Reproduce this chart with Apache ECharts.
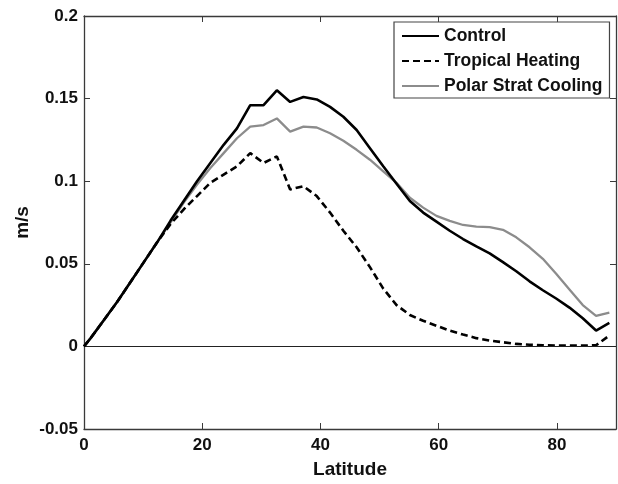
<!DOCTYPE html>
<html>
<head>
<meta charset="utf-8">
<script src="https://cdn.jsdelivr.net/npm/echarts@6/dist/echarts.min.js"></script>
<style>html,body{margin:0;padding:0;background:#fff}#c{width:618px;height:484px}</style>
</head>
<body>
<div id="c"></div>
<script>
const latitude = [0, 1.125, 3.375, 5.625, 7.875, 10.125, 12.375, 14.625, 16.875, 19.125, 21.375,
  23.625, 25.875, 28.125, 30.375, 32.625, 34.875, 37.125, 39.375, 41.625, 43.875,
  46.125, 48.375, 50.625, 52.875, 55.125, 57.375, 59.625, 61.875, 64.125, 66.375,
  68.625, 70.875, 73.125, 75.375, 77.625, 79.875, 82.125, 84.375, 86.625, 88.875];
const control = [0, 0.005, 0.016, 0.027, 0.039, 0.051, 0.063, 0.076, 0.088, 0.100, 0.111,
  0.122, 0.132, 0.146, 0.146, 0.155, 0.148, 0.151, 0.1495, 0.145, 0.139,
  0.131, 0.120, 0.109, 0.0985, 0.088, 0.081, 0.0755, 0.070, 0.065, 0.0605,
  0.0563, 0.051, 0.0455, 0.0394, 0.034, 0.029, 0.0235, 0.017, 0.0096, 0.0142];
const tropicalHeating = [0, 0.005, 0.016, 0.027, 0.039, 0.051, 0.063, 0.074, 0.083, 0.091, 0.099,
  0.104, 0.109, 0.117, 0.111, 0.115, 0.095, 0.097, 0.091, 0.081, 0.070,
  0.060, 0.048, 0.035, 0.025, 0.019, 0.0155, 0.0125, 0.0095, 0.0072, 0.005,
  0.0035, 0.0025, 0.0015, 0.001, 0.0007, 0.0005, 0.0005, 0.0005, 0.0007, 0.0066];
const polarStratCooling = [0, 0.005, 0.016, 0.027, 0.039, 0.051, 0.063, 0.075, 0.087, 0.098, 0.108,
  0.117, 0.126, 0.133, 0.134, 0.138, 0.130, 0.133, 0.1325, 0.129, 0.1245,
  0.119, 0.113, 0.106, 0.099, 0.090, 0.084, 0.079, 0.076, 0.0735, 0.0725,
  0.0722, 0.0706, 0.066, 0.060, 0.053, 0.044, 0.0345, 0.025, 0.0185, 0.0205];
const seriesNames = ['Control', 'Tropical Heating', 'Polar Strat Cooling'];
const xTicks = [0, 20, 40, 60, 80];
const yTicks = [-0.05, 0, 0.05, 0.1, 0.15, 0.2];

const FONT = '"Liberation Sans", Arial, Helvetica, sans-serif';
const frame = '#3a3a3a';
function pairs(ys) { return latitude.map((x, i) => [x, ys[i]]); }

const chart = echarts.init(document.getElementById('c'), null, {renderer: 'canvas'});
const axisCommon = {
  axisLine: {show: true, onZero: false, lineStyle: {color: frame, width: 1.3}},
  axisTick: {show: true, inside: true, length: 6, lineStyle: {color: frame, width: 1}},
  splitLine: {show: false}
};
chart.setOption({
  animation: false,
  backgroundColor: '#fff',
  grid: {left: 84, top: 16, right: 2, bottom: 49, containLabel: false},
  legend: {
    show: true, orient: 'vertical', left: 394, top: 22,
    data: seriesNames,
    itemWidth: 37, itemHeight: 14, itemGap: 7,
    padding: [5, 7, 3, 7],
    itemStyle: {opacity: 0},
    borderColor: '#444', borderWidth: 1.2, backgroundColor: '#fff',
    textStyle: {fontFamily: FONT, fontWeight: 'bold', fontSize: 17.5, color: '#111'}
  },
  xAxis: [
    Object.assign({}, axisCommon, {
      type: 'value', min: 0, max: 90, interval: 20, position: 'bottom',
      name: 'Latitude', nameLocation: 'middle', nameGap: 31,
      nameTextStyle: {fontFamily: FONT, fontWeight: 'bold', fontSize: 19, color: '#111'},
      axisLabel: {show: true, margin: 8, fontFamily: FONT, fontWeight: 'bold', fontSize: 17, color: '#111',
        showMaxLabel: false, formatter: v => (xTicks.indexOf(v) >= 0 ? String(v) : '')}
    }),
    Object.assign({}, axisCommon, {
      type: 'value', min: 0, max: 90, interval: 20, position: 'top',
      axisLabel: {show: false}
    })
  ],
  yAxis: [
    Object.assign({}, axisCommon, {
      type: 'value', min: -0.05, max: 0.2, interval: 0.05, position: 'left',
      name: 'm/s', nameLocation: 'middle', nameGap: 52, nameMoveOverlap: false,
      nameTextStyle: {fontFamily: FONT, fontWeight: 'bold', fontSize: 19, color: '#111'},
      axisLabel: {show: true, margin: 6, fontFamily: FONT, fontWeight: 'bold', fontSize: 17, color: '#111',
        formatter: v => {
          const r = Math.round(v * 100) / 100;
          const m = yTicks.find(t => Math.abs(t - r) < 1e-9);
          return m === undefined ? '' : String(m);
        }}
    }),
    Object.assign({}, axisCommon, {
      type: 'value', min: -0.05, max: 0.2, interval: 0.05, position: 'right',
      axisLabel: {show: false}
    })
  ],
  series: [
    {
      name: seriesNames[0], type: 'line', data: pairs(control),
      xAxisIndex: 0, yAxisIndex: 0,
      symbol: 'none', smooth: false, z: 5,
      lineStyle: {color: '#000', width: 2.6}, itemStyle: {color: '#000'},
      markLine: {
        silent: true, symbol: 'none', label: {show: false},
        lineStyle: {color: '#222', width: 1.2, type: 'solid'},
        data: [{yAxis: 0}]
      }
    },
    {
      name: seriesNames[1], type: 'line', data: pairs(tropicalHeating),
      xAxisIndex: 0, yAxisIndex: 0,
      symbol: 'none', smooth: false, z: 4,
      lineStyle: {color: '#000', width: 2.6, type: [7, 4]}, itemStyle: {color: '#000'}
    },
    {
      name: seriesNames[2], type: 'line', data: pairs(polarStratCooling),
      xAxisIndex: 0, yAxisIndex: 0,
      symbol: 'none', smooth: false, z: 3,
      lineStyle: {color: '#8c8c8c', width: 2.3}, itemStyle: {color: '#8c8c8c'}
    }
  ]
});
</script>
</body>
</html>
